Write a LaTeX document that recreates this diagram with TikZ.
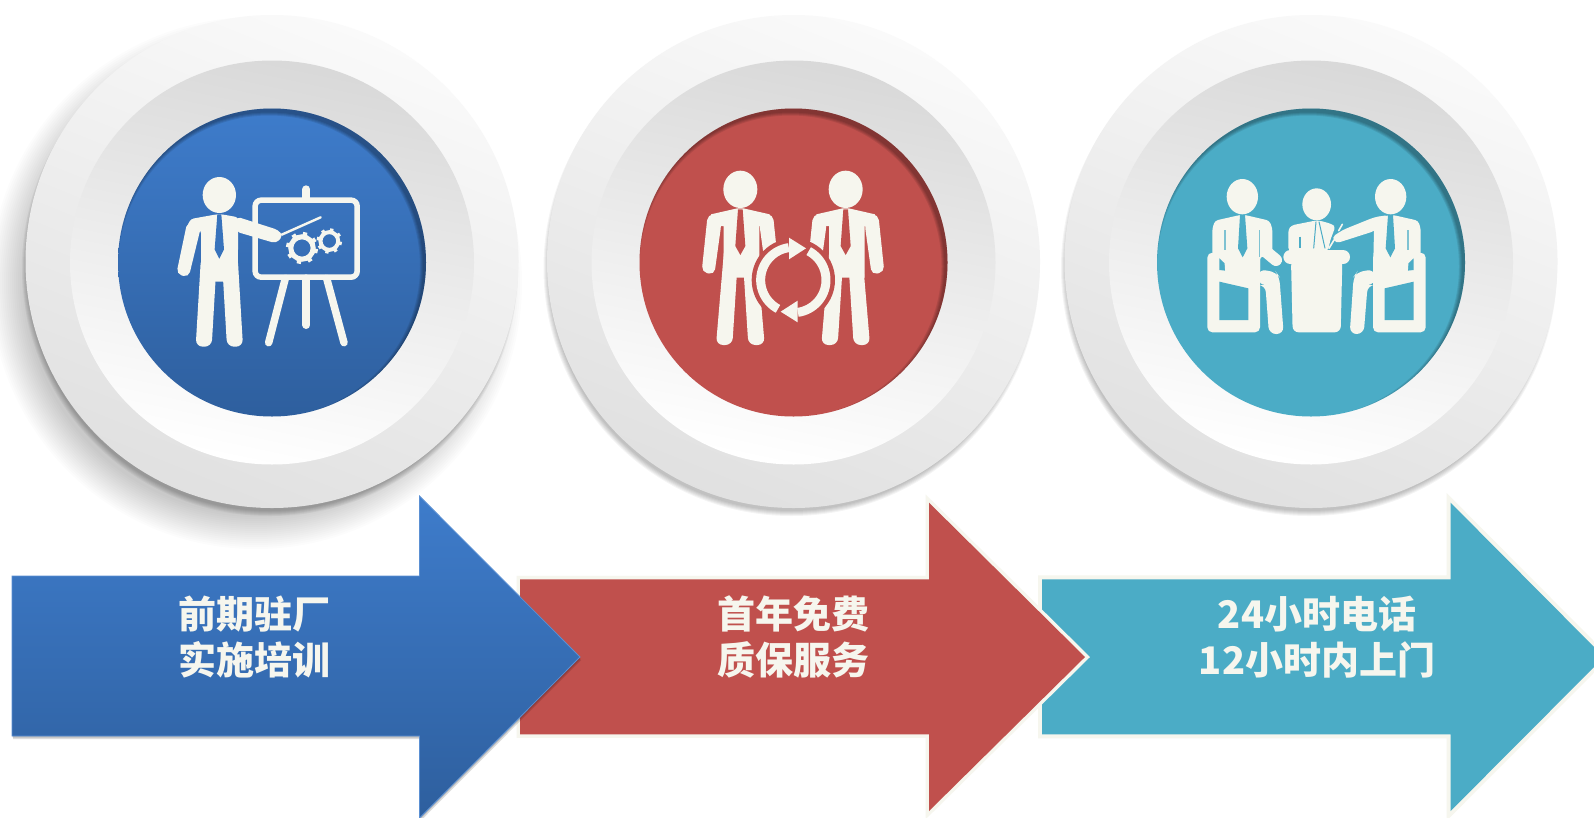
\documentclass[tikz,border=0pt]{standalone}
\usepackage{fontspec}
\newfontfamily\cjk{Noto Sans CJK SC}
\definecolor{cream}{HTML}{F6F6EE}
\definecolor{blueT}{HTML}{3E7CCB}
\definecolor{blueB}{HTML}{2E5F9E}
\definecolor{blueM}{HTML}{3873BC}
\definecolor{redF}{HTML}{C0504D}
\definecolor{tealF}{HTML}{4BACC6}
\tikzset{
  outerdisc/.style={circle,inner sep=0pt,outer sep=0pt,minimum size=493pt,top color=white!98!black,bottom color=black!12,shading angle=-22},
  middisc/.style={circle,inner sep=0pt,outer sep=0pt,minimum size=404pt,top color=black!15,bottom color=white,shading angle=-12},
  innerdisc/.style={circle,inner sep=0pt,outer sep=0pt,minimum size=308pt},
  ink/.style={fill=cream,draw=none},
  inkline/.style={draw=cream,fill=none,line cap=round},
  label/.style={text=cream,align=center,inner sep=0pt,font=\cjk\bfseries\fontsize{38}{45.5}\selectfont},
}
% disc group: #1 name, #2 x centre, #3 fill options
\newcommand\discs[3]{%
  \node[outerdisc] (#1o) at (#2,261.5) {};
  \node[middisc] (#1m) at (#2,262.5) {};
  \node[innerdisc,#3] (#1i) at (#2,262.5) {};
  \begin{scope}
    \clip (#2,262.5) circle[radius=154pt];
    \foreach \k in {0,...,3}{
      \draw[black,opacity=.09,line width={2*(10+\k)*1pt}] (#2-3,266.5) circle[radius=164pt];
    }
  \end{scope}}
\newcommand\tightshadow[1]{%
  \foreach \k in {0,1,2,3,4,5}{
    \fill[black,opacity=.045] (#1-2,268) circle[radius={(243+\k)*1pt}];
  }}
\newcommand\gear[3]{%
  \draw[draw=cream,line width={#3*0.105*1pt}] (#1,#2) circle[radius={0.7*#3}];
  \foreach \a in {0,45,...,315}{
    \draw[draw=cream,line width={#3*0.09*1pt}] ({#1+0.72*#3*cos(\a+12)},{#2+0.72*#3*sin(\a+12)}) -- ({#1+#3*cos(\a+12)},{#2+#3*sin(\a+12)});
  }}
% standing man of the second icon, axis x = 331, #1 tie colour
\newcommand\standman[1]{%
  \fill[ink] (331,268) ellipse[x radius=51,y radius=56];
  \fill[ink] (243,343) -- (322,325) -- (340,325) -- (419,343) -- (412,378) -- (388,378) -- (388,533) -- (281,533) -- (281,378) -- (250,378) -- cycle;
  \fill[ink,rounded corners=5.5pt] (233,344) -- (215,516) -- (253,524) -- (274,372) -- (266,341) -- cycle;
  \fill[ink,rounded corners=5.5pt] (429,344) -- (447,516) -- (409,524) -- (388,372) -- (396,341) -- cycle;
  \fill[ink,rounded corners=7pt] (283,440) -- (258,735) -- (307,735) -- (322,500) -- cycle;
  \fill[ink,rounded corners=7pt] (379,440) -- (404,735) -- (355,735) -- (340,500) -- cycle;
  \fill[#1] (324,328) -- (338,328) -- (346,438) -- (331,465) -- (316,438) -- cycle;}
% chair shape of the third icon
\newcommand\chairhole[1]{%
  \fill[#1] (208,545) -- (295,565) -- (295,660) -- (208,660) -- cycle;
  \fill[#1] (208,475) -- (226,492) -- (226,512) -- (208,510) -- cycle;}
\begin{document}
\begin{tikzpicture}[x=1pt,y=-1pt]
\useasboundingbox (0,0) rectangle (1594,817);
\fill[white] (0,0) rectangle (1594,817);

% --- soft shadow of the first disc ---
\foreach \k in {0,2,...,34}{
  \fill[black,opacity=.012] (256,283) circle[radius={(232+\k)*1pt}];
}
\tightshadow{272}
\tightshadow{793.5}
\tightshadow{1311}

\discs{a}{272}{top color=blueT,bottom color=blueB}
\discs{b}{793.5}{fill=redF}
\discs{c}{1311}{fill=tealF}

% --- icon 1 ---
\begin{scope}[shift={(100,100)},scale=1/3]
  \fill[ink] (358,285) ellipse[x radius=50,y radius=54];
  \fill[ink,rounded corners=3pt] (261,380) -- (272,357) -- (350,343) -- (366,343) -- (415,352) -- (413,545) -- (303,545) -- (303,390) -- (275,385) -- cycle;
  \fill[ink,rounded corners=5.5pt] (262,365) -- (229,522) -- (266,532) -- (305,372) -- cycle;
  \fill[ink,rounded corners=7pt] (303,470) -- (287,740) -- (335,740) -- (349,500) -- cycle;
  \fill[ink,rounded corners=7pt] (413,470) -- (429,740) -- (381,740) -- (367,500) -- cycle;
  \fill[ink,rounded corners=4pt] (410,350) -- (535,390) -- (549,408) -- (528,430) -- (408,395) -- cycle;
  \fill[blueM] (352,343) -- (364,343) -- (372,448) -- (358,476) -- (344,448) -- cycle;
  \draw[inkline,line width=2.4pt] (545,404) -- (662,352);
  \draw[draw=cream,line width=5.5pt,rounded corners=6pt] (465.5,300.5) rectangle (771.5,531.5);
  \draw[inkline,line width=8pt] (619,268) -- (619,295);
  \draw[inkline,line width=8pt] (619,535) -- (619,675);
  \draw[inkline,line width=7.5pt] (556,535) -- (506,728);
  \draw[inkline,line width=7.5pt] (680,535) -- (732,728);
  \gear{606}{444}{48}
  \gear{688}{423}{38}
\end{scope}

% --- icon 2 ---
\begin{scope}[shift={(630,100)},scale=1/3]
  \standman{redF}
  \begin{scope}[xshift=316]
    \standman{redF}
  \end{scope}
  \fill[redF] (490,540) circle[radius=125];
  \draw[draw=cream,line width=9pt] plot[smooth,domain=118:262,samples=30] ({490+98*cos(\x)},{540+98*sin(\x)});
  \draw[draw=cream,line width=9pt] plot[smooth,domain=298:442,samples=30] ({490+98*cos(\x)},{540+98*sin(\x)});
  \fill[ink] (477,413) -- (528,445) -- (477,478) -- cycle;
  \fill[ink] (503,667) -- (452,635) -- (503,602) -- cycle;
\end{scope}

% --- icon 3 ---
\begin{scope}[shift={(1150,100)},scale=1/3]
  % left man
  \fill[ink] (277,290) ellipse[x radius=47,y radius=53];
  \fill[ink,rounded corners=5pt] (172,458) rectangle (330,697);
  \chairhole{tealF}
  \fill[ink,rounded corners=3pt] (187,385) -- (195,362) -- (270,345) -- (285,345) -- (358,362) -- (367,385) -- (367,470) -- (330,470) -- (330,520) -- (226,520) -- (222,465) -- (187,465) -- cycle;
  \draw[inkline,line width=12pt] (348,455) -- (378,480);
  \fill[ink,rounded corners=7pt] (325,508) -- (378,516) -- (388,530) -- (401,702) -- (357,702) -- (346,555) -- (325,555) -- cycle;
  \fill[tealF] (270,345) -- (285,345) -- (292,445) -- (278,472) -- (264,445) -- cycle;
  \draw[draw=tealF!70!cream,line width=1.3pt] (225,390) -- (225,450);
  \draw[draw=tealF!70!cream,line width=1.3pt] (329,390) -- (329,470);
  % right man
  \fill[ink] (722,290) ellipse[x radius=47,y radius=53];
  \fill[ink,rounded corners=5pt] (669,458) rectangle (827,697);
  \begin{scope}[xshift=999,xscale=-1]
    \chairhole{tealF}
    \fill[ink,rounded corners=7pt] (325,508) -- (378,516) -- (388,530) -- (400,702) -- (358,702) -- (346,555) -- (325,555) -- cycle;
  \end{scope}
  \fill[ink,rounded corners=3pt] (729,345) -- (804,362) -- (812,385) -- (812,465) -- (777,465) -- (773,520) -- (669,520) -- (672,392) -- (672,352) -- cycle;
  \fill[ink,rounded corners=4pt] (716,345) -- (672,352) -- (578,390) -- (545,412) -- (558,430) -- (674,393) -- cycle;
  \fill[tealF] (714,345) -- (729,345) -- (735,445) -- (721,472) -- (707,445) -- cycle;
  \draw[draw=tealF!70!cream,line width=1.3pt] (774,390) -- (774,450);
  \draw[inkline,line width=1.6pt] (577,373) -- (566,392);
  \draw[inkline,line width=1.6pt] (552,420) -- (537,445);
  % middle man and desk
  \fill[ink] (500,313) ellipse[x radius=43,y radius=48];
  \fill[ink,rounded corners=3pt] (415,388) -- (425,376) -- (495,362) -- (510,362) -- (545,372) -- (556,380) -- (541,420) -- (534,452) -- (415,452) -- cycle;
  \draw[draw=tealF,line width=1pt] (498,365) -- (491,445);
  \draw[draw=tealF,line width=1pt] (507,365) -- (525,445);
  \draw[draw=tealF,line width=1.5pt] (450,410) -- (450,445);
  \fill[ink,rounded corners=6pt] (423,480) -- (428,697) -- (572,697) -- (577,480) -- cycle;
  \fill[ink,rounded corners=7pt] (400,450) rectangle (600,492);
\end{scope}

% --- arrows ---
\path[fill=tealF,preaction={draw=cream,line width=8pt}] (1042,579.3) -- (1450.6,579.3) -- (1450.6,502.7) -- (1604,657) -- (1450.6,811) -- (1450.6,734.3) -- (1042,734.3) -- cycle;
\path[fill=redF,preaction={draw=cream,line width=7pt}] (520,579.3) -- (929,579.3) -- (929,502.7) -- (1085,657) -- (929,811) -- (929,734.3) -- (520,734.3) -- cycle;
\fill[black,opacity=.14] (13,579) -- (420.5,579) -- (420.5,499) -- (581,660) -- (420.5,821) -- (420.5,739) -- (13,739) -- cycle;
\fill[black,opacity=.14] (12.5,577.5) -- (420,577.5) -- (420,497.5) -- (580.5,658.5) -- (420,819.5) -- (420,737.5) -- (12.5,737.5) -- cycle;
\path[top color=blueT,bottom color=blueB,draw=blueT!85!white,line width=.8pt] (12,576) -- (419.5,576) -- (419.5,496) -- (580,657) -- (419.5,818) -- (419.5,736) -- (12,736) -- cycle;

\node[label] (t1) at (254,637) {前期驻厂\\实施培训};
\node[label] (t2) at (793,637) {首年免费\\质保服务};
\node[label] (t3) at (1317,637) {24小时电话\\12小时内上门};
\end{tikzpicture}
\end{document}
